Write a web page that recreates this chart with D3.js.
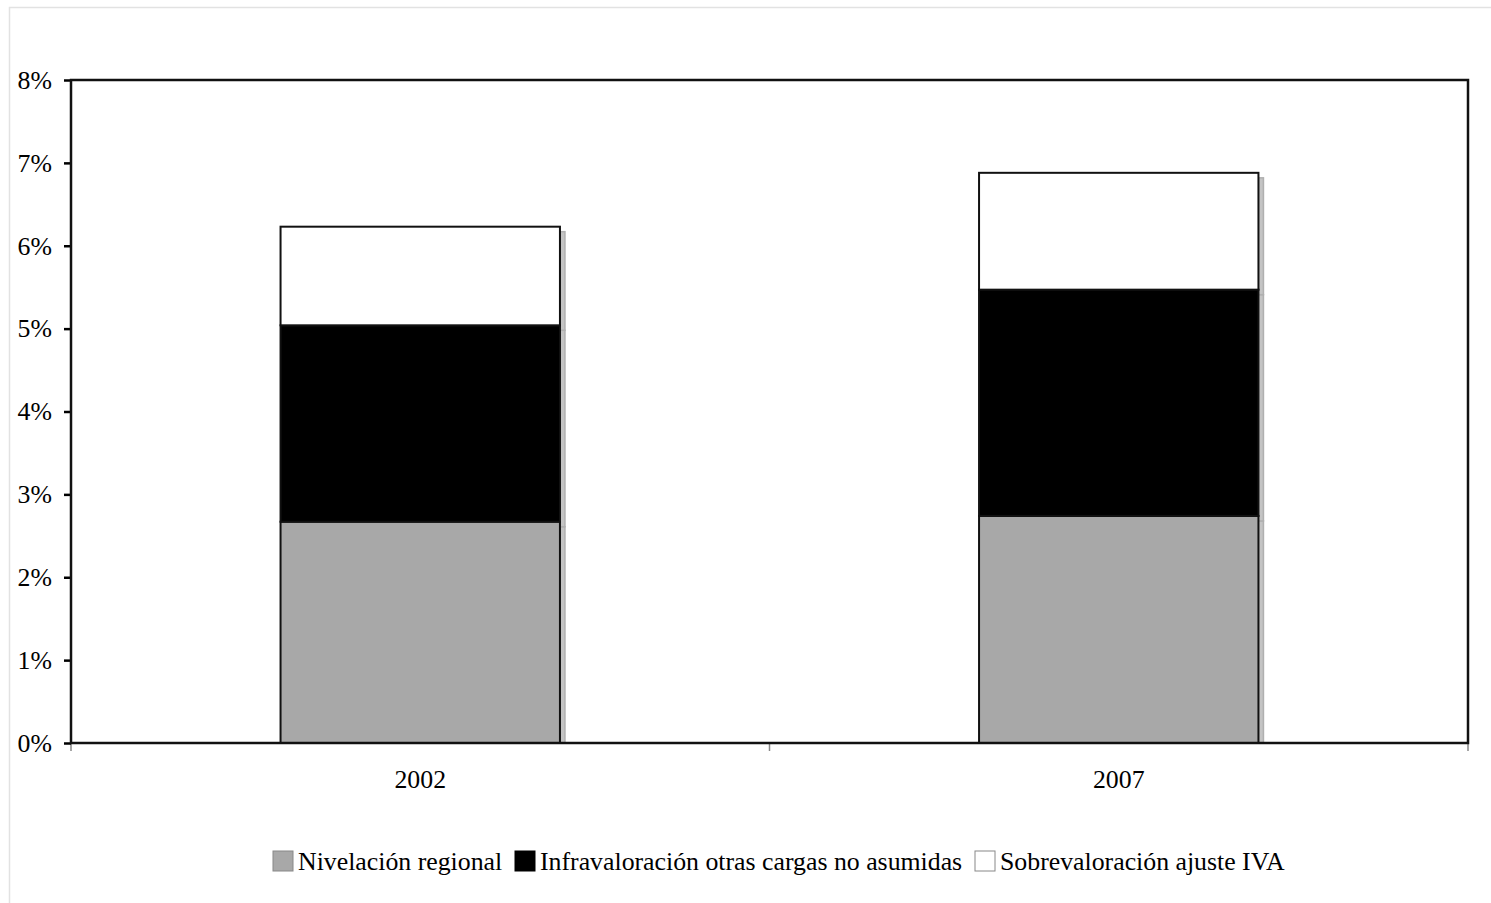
<!DOCTYPE html>
<html>
<head>
<meta charset="utf-8">
<script src="https://cdn.jsdelivr.net/npm/d3@7"></script>
<style>
  body { margin: 0; background: #fff; }
  text { font-family: "Liberation Serif", "Times New Roman", serif; fill: #000; }
</style>
</head>
<body>
<script>
const years = ['2002', '2007'];
const seriesNames = ['Nivelación regional', 'Infravaloración otras cargas no asumidas', 'Sobrevaloración ajuste IVA'];
const nivelacion = [2.67, 2.74];
const infravaloracion = [2.37, 2.73];
const sobrevaloracion = [1.19, 1.41];
const yTicks = [0, 1, 2, 3, 4, 5, 6, 7, 8];
const colors = ['#a8a8a8', '#000000', '#ffffff'];

const svgWidth = 1491;
const svgHeight = 903;

const plotLeft = 71;
const plotRight = 1468;
const plotTop = 80;
const plotBottom = 743;

const svg = d3.select('body')
              .append('svg')
              .attr('width', svgWidth)
              .attr('height', svgHeight);

// light page frame
svg.append('rect')
   .attr('x', 9.5)
   .attr('y', 7.5)
   .attr('width', svgWidth)
   .attr('height', svgHeight)
   .attr('fill', 'none')
   .attr('stroke', '#e2e2e2')
   .attr('stroke-width', 1.5);

svg.append('clipPath')
   .attr('id', 'plot-clip')
   .append('rect')
   .attr('x', plotLeft)
   .attr('y', plotTop)
   .attr('width', plotRight - plotLeft)
   .attr('height', plotBottom - plotTop);

const rows = years.map((y, i) => ({
  year: y,
  s0: nivelacion[i],
  s1: infravaloracion[i],
  s2: sobrevaloracion[i]
}));

const stacked = d3.stack().keys(['s0', 's1', 's2'])(rows);

const xScale = d3.scaleBand()
                 .domain(years)
                 .range([plotLeft, plotRight])
                 .paddingInner(0.6)
                 .paddingOuter(0.3);

const yScale = d3.scaleLinear()
                 .domain([0, 8])
                 .range([plotBottom, plotTop]);

// x axis labels
const xAxis = d3.axisBottom(xScale).tickSize(0).tickPadding(27);
const gx = svg.append('g')
   .attr('transform', 'translate(0,' + plotBottom + ')')
   .call(xAxis);
gx.select('.domain').remove();
gx.selectAll('text').style('font-size', '25.8px').style('font-family', '"Liberation Serif", serif');

// x ticks at category boundaries
const step = (plotRight - plotLeft) / years.length;
svg.append('g')
   .selectAll('line')
   .data(d3.range(years.length + 1))
   .enter()
   .append('line')
   .attr('x1', (d) => plotLeft + d * step)
   .attr('x2', (d) => plotLeft + d * step)
   .attr('y1', plotBottom)
   .attr('y2', plotBottom + 8)
   .attr('stroke', '#888')
   .attr('stroke-width', 1.5);

// y axis
const yAxis = d3.axisLeft(yScale)
                .tickValues(yTicks)
                .tickFormat((d) => d + '%')
                .tickSize(7)
                .tickPadding(12);
const gy = svg.append('g')
   .attr('transform', 'translate(' + plotLeft + ',0)')
   .call(yAxis);
gy.select('.domain').remove();
gy.selectAll('line').attr('stroke', '#000').attr('stroke-width', 2.5);
gy.selectAll('text').style('font-size', '25.8px').style('font-family', '"Liberation Serif", serif');

// bar shadows
svg.append('g')
   .attr('clip-path', 'url(#plot-clip)')
   .selectAll('g')
   .data(stacked)
   .enter()
   .append('g')
   .selectAll('rect')
   .data((d) => d)
   .enter()
   .append('rect')
   .attr('x', (d) => xScale(d.data.year) + 5)
   .attr('y', (d) => yScale(d[1]) + 5)
   .attr('width', xScale.bandwidth())
   .attr('height', (d) => yScale(d[0]) - yScale(d[1]))
   .attr('fill', '#c4c4c4')
   .attr('stroke', '#b0b0b0')
   .attr('stroke-width', 1.5);

// bars
svg.append('g')
   .selectAll('g')
   .data(stacked)
   .enter()
   .append('g')
   .attr('fill', (d, i) => colors[i])
   .selectAll('rect')
   .data((d) => d)
   .enter()
   .append('rect')
   .attr('x', (d) => xScale(d.data.year))
   .attr('y', (d) => yScale(d[1]))
   .attr('width', xScale.bandwidth())
   .attr('height', (d) => yScale(d[0]) - yScale(d[1]))
   .attr('stroke', '#111')
   .attr('stroke-width', 2);

// plot frame
svg.append('rect')
   .attr('x', plotLeft)
   .attr('y', plotTop)
   .attr('width', plotRight - plotLeft)
   .attr('height', plotBottom - plotTop)
   .attr('fill', 'none')
   .attr('stroke', '#111')
   .attr('stroke-width', 2.5);

// legend
const legendItems = [
  { name: seriesNames[0], color: colors[0], x: 273 },
  { name: seriesNames[1], color: colors[1], x: 515 },
  { name: seriesNames[2], color: colors[2], x: 975 }
];
const legend = svg.append('g').selectAll('g')
   .data(legendItems)
   .enter()
   .append('g')
   .attr('transform', (d) => 'translate(' + d.x + ',851)');
legend.append('rect')
   .attr('width', 20)
   .attr('height', 20)
   .attr('fill', (d) => d.color)
   .attr('stroke', (d) => d.color === '#000000' ? '#000' : '#888')
   .attr('stroke-width', 1);
legend.append('text')
   .attr('x', 25)
   .attr('y', 19)
   .style('font-size', '25.8px')
   .text((d) => d.name);
</script>
</body>
</html>
